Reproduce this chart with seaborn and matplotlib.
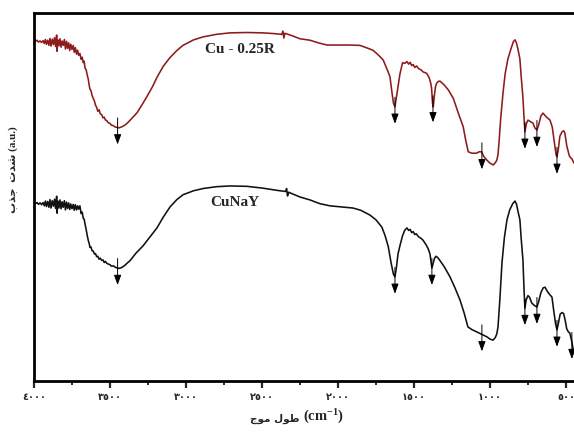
import numpy as np
import pandas as pd
import matplotlib
matplotlib.use("Agg")
import matplotlib.pyplot as plt
import seaborn as sns
from matplotlib.ticker import MultipleLocator

# FTIR spectra (wavenumber in cm^-1, intensity in arbitrary units)
cu_r_wn = [4000, 3990, 3980, 3970, 3960, 3950, 3940, 3932, 3925, 3918, 3910, 3902, 3895, 3888,
           3880, 3872, 3865, 3858, 3851, 3848, 3843, 3836, 3829, 3822, 3815, 3808, 3800, 3793,
           3786, 3779, 3772, 3765, 3758, 3750, 3742, 3735, 3728, 3720, 3713, 3706, 3698, 3690,
           3683, 3676, 3670, 3664, 3657, 3650, 3643, 3637, 3632, 3625, 3618, 3610, 3602, 3595,
           3588, 3580, 3572, 3564, 3555, 3546, 3538, 3530, 3522, 3512, 3500, 3490, 3478, 3465,
           3452, 3440, 3420, 3400, 3388, 3360, 3322, 3290, 3257, 3220, 3191, 3150, 3105, 3060,
           3020, 2950, 2888, 2800, 2711, 2600, 2493, 2420, 2370, 2362, 2356, 2349, 2300, 2250,
           2184, 2130, 2072, 2000, 1930, 1855, 1810, 1770, 1740, 1720, 1702, 1685, 1670, 1658,
           1645, 1635, 1625, 1615, 1605, 1592, 1575, 1560, 1546, 1535, 1525, 1515, 1505, 1495,
           1482, 1470, 1455, 1440, 1416, 1400, 1390, 1384, 1378, 1373, 1366, 1358, 1351, 1340,
           1329, 1300, 1274, 1241, 1210, 1176, 1160, 1143, 1120, 1088, 1070, 1055, 1040, 1022,
           1000, 978, 965, 955, 947, 940, 930, 914, 900, 882, 860, 845, 835, 825, 815, 803, 795,
           783, 775, 770, 760, 750, 735, 717, 705, 691, 680, 665, 651, 630, 605, 590, 575, 565,
           559, 550, 540, 526, 515, 507, 495, 480, 474, 460, 447]
cu_r_val = [92.5, 92.3, 92.6, 92.1, 92.4, 92.0, 92.5, 91.7, 92.8, 91.5, 92.6, 91.2, 93.1, 91.0,
            92.9, 91.4, 93.3, 90.9, 94.0, 89.6, 92.7, 91.1, 93.0, 90.7, 92.4, 91.2, 92.8, 90.2,
            92.3, 90.4, 91.9, 89.8, 91.5, 90.1, 91.2, 89.3, 90.6, 88.8, 89.9, 88.5, 89.0, 87.4,
            88.0, 86.5, 86.9, 85.0, 84.6, 83.2, 82.0, 80.4, 79.3, 78.9, 77.6, 76.8, 76.0, 74.9,
            74.4, 73.3, 73.7, 72.6, 72.4, 71.5, 71.7, 70.9, 70.8, 70.2, 70.0, 69.5, 69.4, 69.0,
            68.9, 68.8, 69.1, 69.6, 70.0, 71.2, 72.9, 75.0, 77.3, 80.0, 82.5, 85.5, 87.9, 89.8,
            91.2, 92.7, 93.5, 94.2, 94.6, 94.7, 94.6, 94.4, 94.2, 95.1, 93.2, 94.5, 93.8, 93.0,
            92.6, 91.9, 91.3, 91.3, 91.3, 91.2, 90.5, 89.9, 88.8, 88.0, 87.2, 85.5, 84.0, 82.7,
            78.5, 75.5, 74.5, 77.5, 80.0, 83.5, 86.5, 86.3, 86.8, 86.1, 86.6, 85.7, 86.0, 85.2,
            85.6, 84.9, 84.6, 84.0, 83.6, 82.4, 81.0, 79.5, 75.5, 74.5, 77.5, 80.0, 80.9, 81.4,
            81.5, 80.4, 79.1, 76.8, 73.0, 69.1, 65.5, 62.3, 61.9, 61.9, 62.3, 62.3, 61.0, 60.1,
            59.2, 58.7, 59.3, 60.0, 61.5, 65.0, 71.0, 78.3, 83.5, 87.5, 90.5, 92.3, 92.7, 91.8,
            90.0, 87.5, 83.0, 77.0, 71.0, 67.7, 70.0, 70.9, 70.5, 70.1, 68.8, 68.2, 69.5, 72.0,
            72.8, 71.8, 70.9, 69.0, 64.5, 61.5, 60.9, 63.0, 66.5, 67.7, 68.0, 67.4, 64.0, 61.5,
            60.9, 60.3, 59.2]

cunay_wn = [4000, 3990, 3980, 3970, 3960, 3950, 3940, 3932, 3925, 3918, 3910, 3902, 3895, 3888,
            3880, 3872, 3865, 3858, 3851, 3848, 3843, 3836, 3829, 3822, 3815, 3808, 3800, 3793,
            3786, 3779, 3772, 3765, 3758, 3750, 3742, 3735, 3728, 3720, 3713, 3706, 3698, 3690,
            3683, 3676, 3670, 3664, 3657, 3650, 3643, 3637, 3632, 3625, 3618, 3610, 3602, 3595,
            3588, 3580, 3572, 3564, 3555, 3546, 3538, 3530, 3522, 3512, 3500, 3490, 3478, 3465,
            3452, 3440, 3420, 3400, 3388, 3368, 3330, 3283, 3240, 3191, 3150, 3105, 3060, 3020,
            2950, 2888, 2800, 2711, 2600, 2493, 2400, 2345, 2338, 2332, 2325, 2250, 2184, 2120,
            2053, 1980, 1901, 1850, 1790, 1750, 1711, 1690, 1669, 1650, 1635, 1625, 1615, 1605,
            1592, 1575, 1560, 1546, 1535, 1525, 1515, 1505, 1495, 1485, 1470, 1455, 1441, 1420,
            1405, 1395, 1388, 1382, 1375, 1365, 1355, 1345, 1330, 1300, 1263, 1230, 1197, 1170,
            1145, 1120, 1086, 1050, 1020, 1000, 980, 965, 955, 947, 935, 921, 905, 888, 870, 850,
            835, 825, 815, 803, 795, 783, 775, 770, 762, 750, 740, 725, 710, 691, 680, 665, 650,
            638, 620, 605, 592, 580, 568, 559, 550, 538, 525, 515, 505, 495, 485, 474, 462, 455,
            447]
cunay_val = [48.4, 48.2, 48.5, 48.0, 48.4, 47.9, 48.5, 47.6, 48.9, 47.4, 48.8, 47.2, 49.3, 47.0,
             49.0, 47.5, 49.4, 46.9, 50.2, 45.6, 48.9, 47.0, 49.2, 46.8, 48.7, 47.2, 49.0, 46.5,
             48.6, 46.9, 48.4, 46.6, 48.1, 46.8, 48.0, 46.4, 47.9, 46.5, 47.6, 46.7, 47.6, 45.5,
             45.9, 44.2, 44.0, 42.6, 41.2, 39.6, 38.2, 37.4, 36.3, 36.4, 35.4, 35.3, 34.5, 34.6,
             33.8, 33.9, 33.1, 33.4, 32.8, 32.9, 32.2, 32.5, 32.0, 31.8, 31.6, 31.2, 31.3, 30.9,
             30.7, 30.6, 30.9, 31.5, 32.0, 32.7, 34.7, 36.7, 39.0, 41.6, 44.5, 47.3, 49.3, 50.6,
             51.7, 52.3, 52.8, 53.0, 52.9, 52.4, 51.8, 51.5, 52.3, 50.3, 51.3, 50.0, 49.2, 48.2,
             47.6, 47.3, 47.0, 46.4, 45.1, 43.8, 41.8, 39.5, 36.5, 32.0, 29.0, 28.3, 31.0, 34.5,
             36.8, 39.5, 41.0, 41.6, 40.9, 41.2, 40.3, 40.6, 39.8, 40.0, 39.2, 38.8, 38.3, 37.0,
             35.8, 34.6, 32.5, 30.7, 31.8, 33.3, 33.9, 33.6, 32.8, 31.0, 28.3, 25.3, 22.0, 18.5,
             14.7, 14.0, 13.3, 12.6, 12.0, 11.4, 11.1, 11.8, 12.8, 14.7, 22.0, 32.1, 39.0, 43.8,
             46.5, 48.2, 48.9, 48.0, 46.0, 43.8, 39.0, 32.9, 24.0, 19.8, 22.0, 23.2, 22.8, 21.2,
             20.6, 20.1, 21.5, 24.0, 25.3, 25.5, 24.2, 23.4, 22.8, 19.0, 15.5, 13.9, 15.6, 18.2,
             18.6, 18.3, 16.5, 14.2, 13.4, 13.0, 10.8, 9.2, 7.6]

# Band positions marked with arrows
cu_r_bands = [3450, 1625, 1375, 1053, 770, 691, 559]
cunay_bands = [3450, 1625, 1382, 1053, 770, 691, 559, 461]

series_names = ["Cu - 0.25R", "CuNaY"]
tick_values = [4000, 3500, 3000, 2500, 2000, 1500, 1000, 500]
tick_labels = ["٤٠٠٠", "٣٥٠٠", "٣٠٠٠", "٢٥٠٠", "٢٠٠٠", "١٥٠٠", "١٠٠٠", "٥٠٠"]

sns.set_style("ticks")
plt.rcParams["font.family"] = ["DejaVu Sans"]
plt.rcParams["mathtext.fontset"] = "custom"
plt.rcParams["mathtext.rm"] = "Liberation Serif:bold"
plt.rcParams["mathtext.bf"] = "Liberation Serif:bold"
plt.rcParams["mathtext.default"] = "bf"

df = pd.concat([
    pd.DataFrame({"wn": cu_r_wn, "val": cu_r_val, "sample": series_names[0]}),
    pd.DataFrame({"wn": cunay_wn, "val": cunay_val, "sample": series_names[1]}),
], ignore_index=True)

W, H = 574, 432
fig = plt.figure(figsize=(W / 100, H / 100), dpi=100)
ax = fig.add_axes([34 / W, 1 - 381 / H, 1 - 34 / W, (381 - 13) / H])

palette = {series_names[0]: "#8e1b1b", series_names[1]: "#111111"}
sns.lineplot(data=df, x="wn", y="val", hue="sample", palette=palette, estimator=None,
             linewidth=1.15, legend=False, ax=ax)

ax.set_xlim(4000, 447)
ax.set_ylim(0, 100)

# peak arrows
for bands, wn, val in [(cu_r_bands, cu_r_wn, cu_r_val), (cunay_bands, cunay_wn, cunay_val)]:
    wn_a = np.array(wn)[::-1]
    val_a = np.array(val)[::-1]
    for b in bands:
        v = np.interp(b, wn_a, val_a)
        ax.annotate("", xy=(b, v - 4.6), xytext=(b, v + 2.6),
                    arrowprops=dict(arrowstyle="-|>,head_length=0.6,head_width=0.22",
                                    color="black", lw=0.7, shrinkA=0, shrinkB=0,
                                    mutation_scale=10))

# sample names
label_font = dict(family=["Liberation Serif"], fontweight="bold", fontsize=11)
ax.text(2645, 90.2, series_names[0], ha="center", va="center", **label_font)
ax.text(2681, 48.4, series_names[1], ha="center", va="center", **label_font)

# axes styling
for side in ["left", "top", "bottom"]:
    ax.spines[side].set_linewidth(2.0)
    ax.spines[side].set_color("black")
ax.spines["right"].set_visible(False)
ax.set_yticks([])
ax.set_xticks(tick_values)
ax.set_xticklabels(tick_labels, fontsize=7, fontweight="bold", family=["DejaVu Sans"])
ax.xaxis.set_minor_locator(MultipleLocator(250))
ax.tick_params(axis="x", which="major", direction="out", length=5, width=1.6, pad=3)
ax.tick_params(axis="x", which="minor", direction="out", length=3, width=1.4)
ax.set_xlabel("")
ax.set_ylabel("")

# Persian axis titles (presentation forms, visual order)
x_title_fa = "\uFE9D\uFEEE\uFEE3 \uFEDD\uFEEE\uFEC3"
x_title_unit = "(cm$^{-1}$)"
y_title = "\uFE8F\uFEAC\uFE9F  \uFE95\uFEAA\uFEB7 (a.u.)"
fig.text(300 / W, 1 - 419 / H, x_title_fa, ha="right", va="center", fontsize=7.5,
         fontweight="bold", family=["DejaVu Sans"])
fig.text(303 / W, 1 - 417 / H, x_title_unit, ha="left", va="center", fontsize=10.5,
         fontweight="bold", family=["Liberation Serif"])
fig.text(13 / W, 1 - 170 / H, y_title, ha="center", va="center", rotation=90, fontsize=8,
         fontweight="bold", family=["Liberation Serif", "DejaVu Sans"])

fig.savefig("out.png", dpi=100)
